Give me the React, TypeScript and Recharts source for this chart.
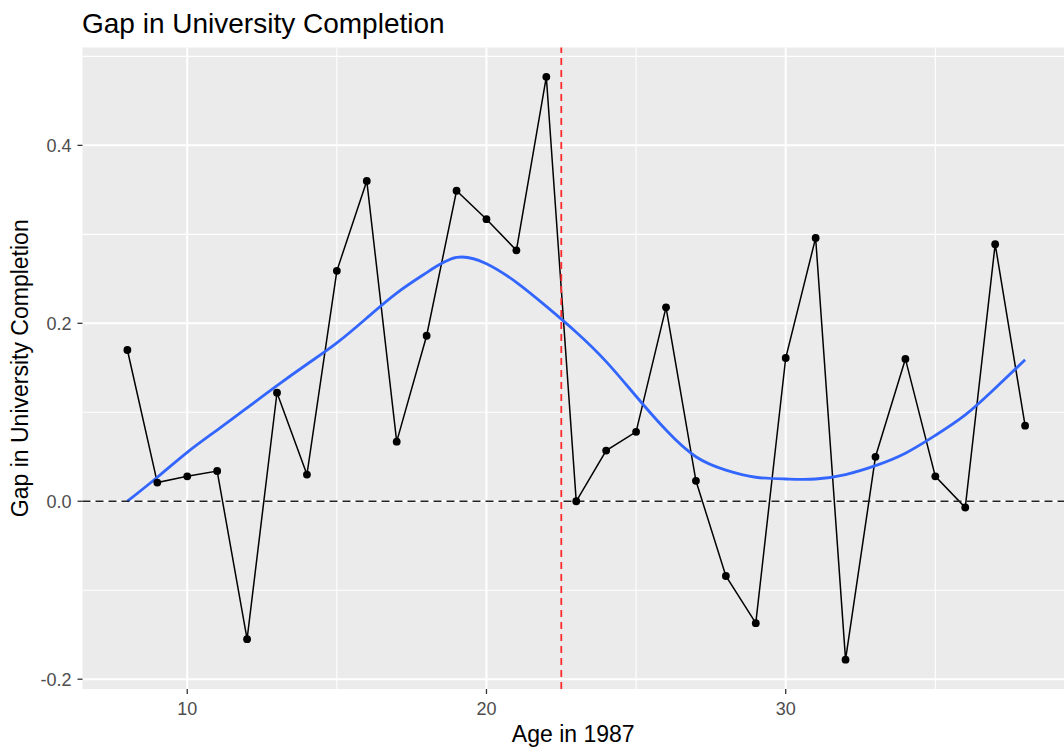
import { ComposedChart, Line, XAxis, YAxis, CartesianGrid, ReferenceLine } from "recharts";

const ages = [8, 9, 10, 11, 12, 13, 14, 15, 16, 17, 18, 19, 20, 21, 22, 23, 24, 25, 26, 27, 28, 29, 30, 31, 32, 33, 34, 35, 36, 37, 38];
const gapValues = [0.170, 0.021, 0.028, 0.034, -0.155, 0.122, 0.030, 0.259, 0.360, 0.067, 0.186, 0.349, 0.317, 0.282, 0.477, 0.000, 0.057, 0.078, 0.218, 0.023, -0.084, -0.137, 0.161, 0.296, -0.178, 0.050, 0.160, 0.028, -0.007, 0.289, 0.085];
const smoothValues = [0.000, 0.027, 0.055, 0.080, 0.105, 0.130, 0.154, 0.178, 0.206, 0.234, 0.257, 0.274, 0.267, 0.246, 0.219, 0.190, 0.157, 0.118, 0.080, 0.050, 0.035, 0.027, 0.025, 0.025, 0.030, 0.040, 0.054, 0.074, 0.097, 0.127, 0.159];

const xMajorTicks = [10, 20, 30];
const xMinorTicks = [15, 25, 35];
const yMajorTicks = [-0.2, 0, 0.2, 0.4];
const yMinorTicks = [-0.1, 0.1, 0.3, 0.5];
const cutoffAge = 22.5;

const FONT = "'Liberation Sans', Arial, sans-serif";

const rows = ages.map((age, i) => ({ age, gap: gapValues[i], smooth: smoothValues[i] }));

function YTitle({ viewBox }: any) {
  const cy = viewBox.y + viewBox.height / 2;
  return (
    <text x={28} y={cy} transform={`rotate(-90, 28, ${cy})`} textAnchor="middle" fontSize={23} fontFamily={FONT} fill="#000">
      Gap in University Completion
    </text>
  );
}

function XTitle({ viewBox }: any) {
  const cx = viewBox.x + viewBox.width / 2;
  return (
    <text x={cx} y={742} textAnchor="middle" fontSize={23} fontFamily={FONT} fill="#000">
      Age in 1987
    </text>
  );
}

export default function App() {
  return (
    <div style={{ position: "absolute", left: 0, top: 0, width: 1064, height: 749, background: "#fff" }}>
      <svg width={1064} height={60} style={{ position: "absolute", left: 0, top: 0 }}>
        <text x={82} y={32.5} fontSize={28} fontFamily={FONT} fill="#000">
          Gap in University Completion
        </text>
      </svg>
      <ComposedChart
        width={1064}
        height={749}
        data={rows}
        margin={{ top: 47.5, right: 0, bottom: 0, left: 0 }}
      >
        <CartesianGrid
          fill="#EBEBEB"
          stroke="#FFFFFF"
          strokeWidth={1.1}
          horizontalValues={yMinorTicks}
          verticalValues={xMinorTicks}
        />
        <CartesianGrid
          stroke="#FFFFFF"
          strokeWidth={2}
          horizontalValues={yMajorTicks}
          verticalValues={xMajorTicks}
        />
        <XAxis
          dataKey="age"
          type="number"
          domain={[6.5, 39.3]}
          allowDataOverflow
          ticks={xMajorTicks}
          height={60}
          axisLine={false}
          tickSize={5}
          tickMargin={8}
          tickLine={{ stroke: "#333333", strokeWidth: 1.3 }}
          tick={{ fontSize: 18, fill: "#4D4D4D", fontFamily: FONT }}
          label={<XTitle />}
        />
        <YAxis
          type="number"
          domain={[-0.211, 0.51]}
          allowDataOverflow
          ticks={yMajorTicks}
          width={82.5}
          axisLine={false}
          tickSize={5}
          tickMargin={6}
          tickLine={{ stroke: "#333333", strokeWidth: 1.3 }}
          tick={{ fontSize: 18, fill: "#4D4D4D", fontFamily: FONT }}
          tickFormatter={(v: number) => v.toFixed(1)}
          label={<YTitle />}
        />
        <Line
          dataKey="gap"
          type="linear"
          stroke="#000000"
          strokeWidth={1.5}
          dot={{ r: 3.9, fill: "#000000", stroke: "#000000", strokeWidth: 0 }}
          activeDot={false}
          isAnimationActive={false}
        />
        <Line
          dataKey="smooth"
          type="natural"
          stroke="#3366FF"
          strokeWidth={2.8}
          dot={false}
          activeDot={false}
          isAnimationActive={false}
        />
        <ReferenceLine y={0} stroke="#222222" strokeWidth={1.5} strokeDasharray="8 5" />
        <ReferenceLine x={cutoffAge} stroke="#FF2A2A" strokeWidth={1.8} strokeDasharray="7 5" />
      </ComposedChart>
    </div>
  );
}
